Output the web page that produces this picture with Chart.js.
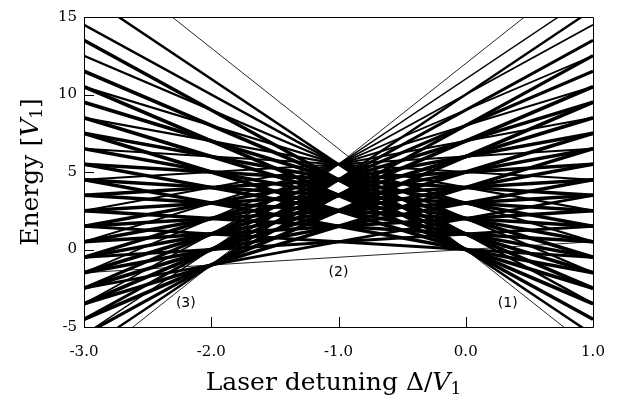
<!DOCTYPE html>
<html>
<head>
<meta charset="utf-8">
<title>Energy levels vs laser detuning</title>
<script src="https://cdn.jsdelivr.net/npm/chart.js@4.4.1/dist/chart.umd.min.js"></script>
<style>
  html, body { margin: 0; padding: 0; background: #fff; }
  #wrap { width: 618px; height: 397px; }
</style>
</head>
<body>
<div id="wrap"><canvas id="c" width="618" height="397"></canvas></div>
<script>
// Detuning range spanned by every level (straight lines in Δ)
const detuning = [-3.0, 1.0];

// Energy of each level at Δ/V1 = -3 and at Δ/V1 = +1
const energyLeft = [
  19.5,
  16.5,
  14.5, 13.5,
  12.5, 11.5, 10.5,
  10.5, 9.5, 8.5, 7.5,
  8.5, 7.5, 6.5, 5.5, 4.5,
  6.5, 5.5, 4.5, 3.5, 2.5, 1.5,
  4.5, 3.5, 2.5, 1.5, 0.5, -0.5, -1.5,
  2.5, 1.5, 0.5, -0.5, -1.5, -2.5,
  0.5, -0.5, -1.5, -2.5, -3.5,
  -1.5, -2.5, -3.5, -4.5,
  -3.5, -4.5, -5.5,
  -5.5, -6.5,
  -7.5
];
const energyRight = [
  -6.5,
  -5.5,
  -3.5, -4.5,
  -1.5, -2.5, -3.5,
  0.5, -0.5, -1.5, -2.5,
  2.5, 1.5, 0.5, -0.5, -1.5,
  4.5, 3.5, 2.5, 1.5, 0.5, -0.5,
  6.5, 5.5, 4.5, 3.5, 2.5, 1.5, 0.5,
  8.5, 7.5, 6.5, 5.5, 4.5, 3.5,
  10.5, 9.5, 8.5, 7.5, 6.5,
  12.5, 11.5, 10.5, 9.5,
  14.5, 13.5, 12.5,
  16.5, 15.5,
  18.5
];
// Number of configurations sharing each level
const degeneracy = [
  1,
  13,
  12, 66,
  11, 110, 165,
  10, 135, 360, 210,
  9, 144, 504, 504, 126,
  8, 140, 560, 700, 280, 28,
  7, 126, 525, 700, 315, 42, 1,
  6, 105, 420, 525, 210, 21,
  5, 80, 280, 280, 70,
  4, 54, 144, 84,
  3, 30, 45,
  2, 11,
  1
];

// Axis ticks
const xTicks = [-3.0, -2.0, -1.0, 0.0, 1.0];
const yTicks = [-5, 0, 5, 10, 15];

// Region labels
const noteText = ['(1)', '(2)', '(3)'];
const noteX = [0.33, -1.0, -2.2];
const noteY = [-3.5, -1.45, -3.5];

const serif = '"DejaVu Serif", "Liberation Serif", serif';
const sans = '"DejaVu Sans", "Liberation Sans", sans-serif';

// Heavily degenerate levels are drawn as heavier strokes
const datasets = energyLeft.map((e0, i) => {
  const g = degeneracy[i];
  return {
    data: [{ x: detuning[0], y: e0 }, { x: detuning[1], y: energyRight[i] }],
    showLine: true,
    borderColor: g > 1 ? '#000' : 'rgba(0,0,0,0.85)',
    borderWidth: Math.min(3.6, 1 + 0.4 * Math.log2(g)),
    pointRadius: 0,
    pointHoverRadius: 0,
    fill: false,
    tension: 0
  };
});

// Frame, inward ticks, region labels
const decorations = {
  id: 'decorations',
  afterDatasetsDraw(chart) {
    const { ctx, chartArea: a, scales } = chart;
    ctx.save();
    ctx.strokeStyle = '#000';
    ctx.lineWidth = 1;
    ctx.beginPath();
    ctx.rect(Math.round(a.left) + 0.5, Math.round(a.top) + 0.5,
             Math.round(a.right - a.left), Math.round(a.bottom - a.top));
    ctx.stroke();

    const len = 10;
    ctx.beginPath();
    xTicks.forEach(v => {
      const px = Math.round(scales.x.getPixelForValue(v)) + 0.5;
      ctx.moveTo(px, a.bottom); ctx.lineTo(px, a.bottom - len);
    });
    yTicks.forEach(v => {
      const py = Math.round(scales.y.getPixelForValue(v)) + 0.5;
      ctx.moveTo(a.left, py); ctx.lineTo(a.left + len, py);
    });
    ctx.stroke();

    ctx.fillStyle = '#000';
    ctx.font = '14px ' + sans;
    ctx.textAlign = 'center';
    ctx.textBaseline = 'middle';
    noteText.forEach((t, i) => {
      ctx.fillText(t, scales.x.getPixelForValue(noteX[i]), scales.y.getPixelForValue(noteY[i]));
    });
    ctx.restore();
  }
};

// Axis titles with italic V and subscript 1
function drawRich(ctx, parts, cx, baseline) {
  let total = 0;
  parts.forEach(p => { ctx.font = p.font; p.w = ctx.measureText(p.t).width; total += p.w; });
  let x = cx - total / 2;
  parts.forEach(p => {
    ctx.font = p.font;
    ctx.fillText(p.t, x, baseline + (p.dy || 0));
    x += p.w;
  });
}
const axisTitles = {
  id: 'axisTitles',
  afterDraw(chart) {
    const { ctx, chartArea: a } = chart;
    const size = 25;
    const up = size + 'px ' + serif;
    const it = 'italic ' + size + 'px ' + serif;
    const sub = Math.round(size * 0.68) + 'px ' + serif;
    ctx.save();
    ctx.fillStyle = '#000';
    ctx.textAlign = 'left';
    ctx.textBaseline = 'alphabetic';
    drawRich(ctx, [
      { t: 'Laser detuning Δ/', font: up },
      { t: 'V', font: it },
      { t: '1', font: sub, dy: 4 }
    ], (a.left + a.right) / 2 - 5, 390);

    ctx.translate(38, (a.top + a.bottom) / 2);
    ctx.rotate(-Math.PI / 2);
    drawRich(ctx, [
      { t: 'Energy [', font: up },
      { t: 'V', font: it },
      { t: '1', font: sub, dy: 4 },
      { t: ']', font: up }
    ], 0, 0);
    ctx.restore();
  }
};

new Chart(document.getElementById('c'), {
  type: 'scatter',
  data: { datasets },
  options: {
    responsive: false,
    animation: false,
    devicePixelRatio: 1,
    layout: { padding: { top: 17, right: 25, left: 0, bottom: 0 } },
    plugins: { legend: { display: false }, tooltip: { enabled: false } },
    events: [],
    scales: {
      x: {
        type: 'linear',
        min: -3, max: 1,
        afterBuildTicks(s) { s.ticks = xTicks.map(v => ({ value: v })); },
        afterFit(s) { s.height = 70; s.paddingLeft = 0; s.paddingRight = 0; },
        grid: { display: false, drawTicks: false },
        border: { display: false },
        ticks: {
          color: '#000',
          padding: 16,
          maxRotation: 0,
          font: { family: serif, size: 15 },
          callback: v => v.toFixed(1)
        }
      },
      y: {
        type: 'linear',
        min: -5, max: 15,
        afterBuildTicks(s) { s.ticks = yTicks.map(v => ({ value: v })); },
        afterFit(s) { s.width = 84; s.paddingTop = 0; s.paddingBottom = 0; },
        grid: { display: false, drawTicks: false },
        border: { display: false },
        ticks: {
          color: '#000',
          padding: 7,
          font: { family: serif, size: 15 },
          callback: v => String(v)
        }
      }
    }
  },
  plugins: [decorations, axisTitles]
});
</script>
</body>
</html>
